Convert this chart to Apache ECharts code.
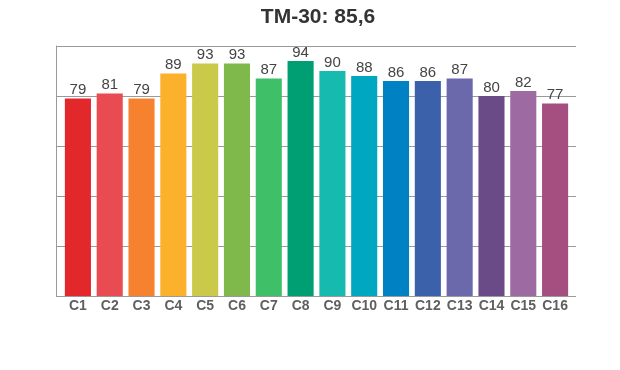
<!DOCTYPE html>
<html>
<head>
<meta charset="utf-8">
<script src="https://cdn.jsdelivr.net/npm/echarts@6/dist/echarts.min.js"></script>
<style>html,body{margin:0;padding:0;background:#fff}#c{width:620px;height:370px}</style>
</head>
<body>
<div id="c"></div>
<script>
const titleText = 'TM-30: 85,6';
const categories = ['C1','C2','C3','C4','C5','C6','C7','C8','C9','C10','C11','C12','C13','C14','C15','C16'];
const values = [79,81,79,89,93,93,87,94,90,88,86,86,87,80,82,77];
const colors = ['#e3282c','#e84b51','#f6812f','#fbb12c','#cbc94a','#7fb94b','#40bf69','#009e73','#17baaf','#00a7c0','#0081c3','#3a61a9','#6b68ac','#6a4b87','#9d6aa2','#a44f7f'];
const yTicks = [0,20,40,60,80,100];

const chart = echarts.init(document.getElementById('c'), null, {renderer:'canvas'});
const font = 'Liberation Sans, Arial, sans-serif';
chart.setOption({
  animation:false,
  backgroundColor:'#fff',
  title:{text:titleText,left:313,textAlign:'center',top:2,
    textStyle:{fontFamily:font,fontSize:21,fontWeight:'bold',color:'#333'}},
  grid:[
    {left:56,right:44,top:46,bottom:74},
    {left:62,right:49,top:46,bottom:74}
  ],
  xAxis:[
    {gridIndex:0,type:'value',show:false,min:0,max:1},
    {gridIndex:1,type:'category',data:categories,
      axisLine:{show:false},axisTick:{show:false},
      axisLabel:{fontFamily:font,fontSize:14,fontWeight:'bold',color:'#5f5f5f',margin:3,interval:0}}
  ],
  yAxis:[
    {gridIndex:0,type:'value',min:yTicks[0],max:yTicks[yTicks.length-1],interval:20,
      axisLine:{show:true,lineStyle:{color:'#9a9a9a',width:1}},
      axisTick:{show:false},axisLabel:{show:false},
      splitLine:{show:true,lineStyle:{color:'#9a9a9a',width:1}}},
    {gridIndex:1,type:'value',min:0,max:100,show:false,splitLine:{show:false}}
  ],
  series:[{
    type:'bar',xAxisIndex:1,yAxisIndex:1,
    data:values.map((v,i)=>({value:v,itemStyle:{color:colors[i]}})),
    barCategoryGap:'18%',
    label:{show:true,position:'top',distance:1,fontFamily:font,fontSize:15,color:'#444'}
  }]
});
</script>
</body>
</html>
